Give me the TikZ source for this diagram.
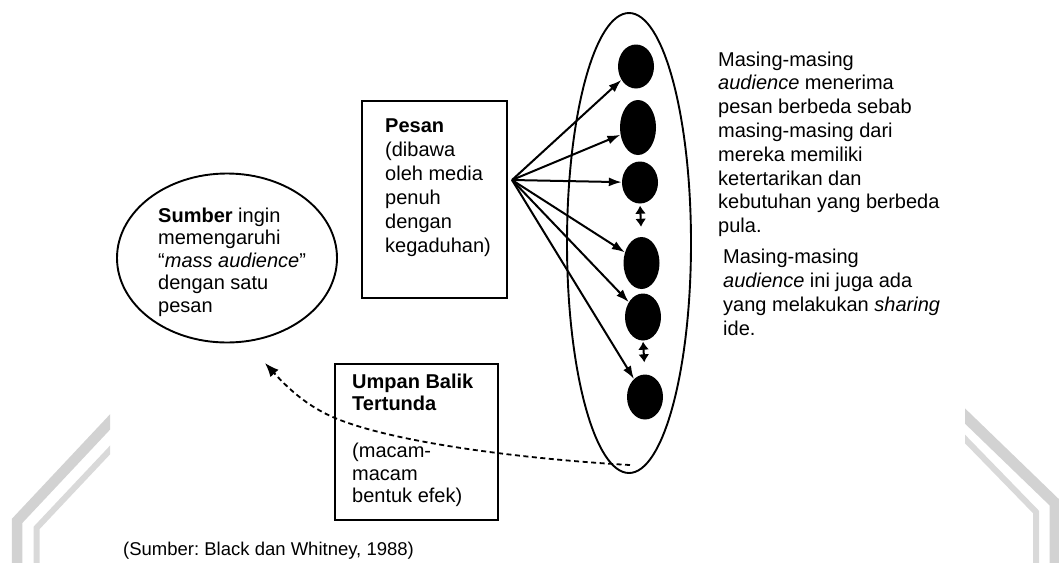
\documentclass[tikz,border=0pt]{standalone}
\usepackage{fontspec}
\setmainfont{Liberation Sans}
\usetikzlibrary{arrows.meta,shapes.geometric}
\definecolor{wm}{HTML}{D2D2D2}
\definecolor{wmthin}{HTML}{D9D9D9}
\begin{document}
\begin{tikzpicture}[x=1pt,y=-1pt,
  txt/.style={anchor=north west, inner sep=0pt, align=left, font=\fontsize{20}{#1}\selectfont},
  frame/.style={draw=black, line width=1.7pt, rectangle, inner sep=0pt},
  oval/.style={draw=black, line width=1.9pt, ellipse, inner sep=0pt},
  blob/.style={ellipse, fill=black, draw=none, inner sep=0pt, minimum width=36},
  arr/.style={line width=2pt, -{Latex[length=13pt,width=9pt]}},
  dbl/.style={line width=2pt, {Latex[length=8pt,width=11pt]}-{Latex[length=8pt,width=11pt]}},
  fb/.style={line width=1.8pt, dash pattern=on 5pt off 3.5pt, -{Latex[length=14pt,width=11pt]}},
  wmline/.style={line join=miter, line cap=butt}
]
\useasboundingbox (0,0) rectangle (1059,562);
\fill[white] (0,0) rectangle (1059,562);

% watermark stripes (outside the scanned area)
\begin{scope}
  \clip (0,0) rectangle (110,562);
  \draw[wmline, wm, line width=10.5pt] (130,400.7) -- (17,521) -- (17,580);
  \draw[wmline, wmthin, line width=6pt] (130,428.8) -- (36.5,528) -- (36.5,580);
\end{scope}
\begin{scope}
  \clip (965,0) rectangle (1059,562);
  \draw[wmline, wm, line width=11pt] (945,396.7) -- (1055,503) -- (1055,580);
  \draw[wmline, wmthin, line width=6pt] (945,418.4) -- (1036,512) -- (1036,580);
\end{scope}

% Sumber ellipse
\node[oval, minimum width=220, minimum height=169] (sumber) at (227,258) {};
\node[txt=22.5] (sumbertxt) at (158,206.2)
  {\strut\textbf{Sumber} ingin\\memengaruhi\\“\textit{mass audience}”\\dengan satu\\pesan};

% Pesan box
\node[frame, minimum width=145, minimum height=197] (pesan) at (434.5,199.5) {};
\node[txt=24] (pesantxt) at (385,115.2)
  {\strut\textbf{Pesan}\\(dibawa\\oleh media\\penuh\\dengan\\kegaduhan)};
\coordinate (src) at (512,180);

% audience ellipse and members
\node[oval, minimum width=124, minimum height=460] (aud) at (629,243) {};
\node[blob, minimum height=44] (a1) at (636,66.5) {};
\node[blob, minimum height=55] (a2) at (638,127.5) {};
\node[blob, minimum height=42] (a3) at (640,182.5) {};
\node[blob, minimum height=52] (a4) at (641.5,263) {};
\node[blob, minimum height=47] (a5) at (643,317) {};
\node[blob, minimum height=45] (a6) at (645,397) {};

\foreach \n in {a1,a2,a3,a4,a5,a6} \draw[arr] (src) -- (\n);

\draw[dbl, shorten <=2pt, shorten >=10pt] (a3.south) -- (a4.north);
\draw[dbl, shorten <=1pt, shorten >=12pt] (a5.south) -- (a6.north);

% right text
\node[txt=23.8] (ket1) at (718,49.3)
  {\strut Masing-masing\\\textit{audience} menerima\\pesan berbeda sebab\\masing-masing dari\\mereka memiliki\\ketertarikan dan\\kebutuhan yang berbeda\\pula.};
\node[txt=24.2] (ket2) at (723,246.1)
  {\strut Masing-masing\\\textit{audience} ini juga ada\\yang melakukan \textit{sharing}\\ide.};

% Umpan Balik box
\node[frame, minimum width=163, minimum height=156] (umpan) at (416.5,442) {};
\node[txt=22.5] (umpantxt) at (352,372.2)
  {\strut\textbf{Umpan Balik}\\\textbf{Tertunda}\\[24.5pt](macam-\\macam\\bentuk efek)};

% delayed feedback
\coordinate (fbstart) at (630,465);
\coordinate (fbend) at (265,363);
\draw[fb] (fbstart) .. controls (540,460) and (400,445) .. (335,418)
  .. controls (305,405.5) and (285,385) .. (fbend);

% caption
\node[anchor=base west, inner sep=0pt, font=\fontsize{18.5}{22}\selectfont] (caption) at (123,555)
  {\frenchspacing(Sumber: Black dan Whitney, 1988)};
\end{tikzpicture}
\end{document}
